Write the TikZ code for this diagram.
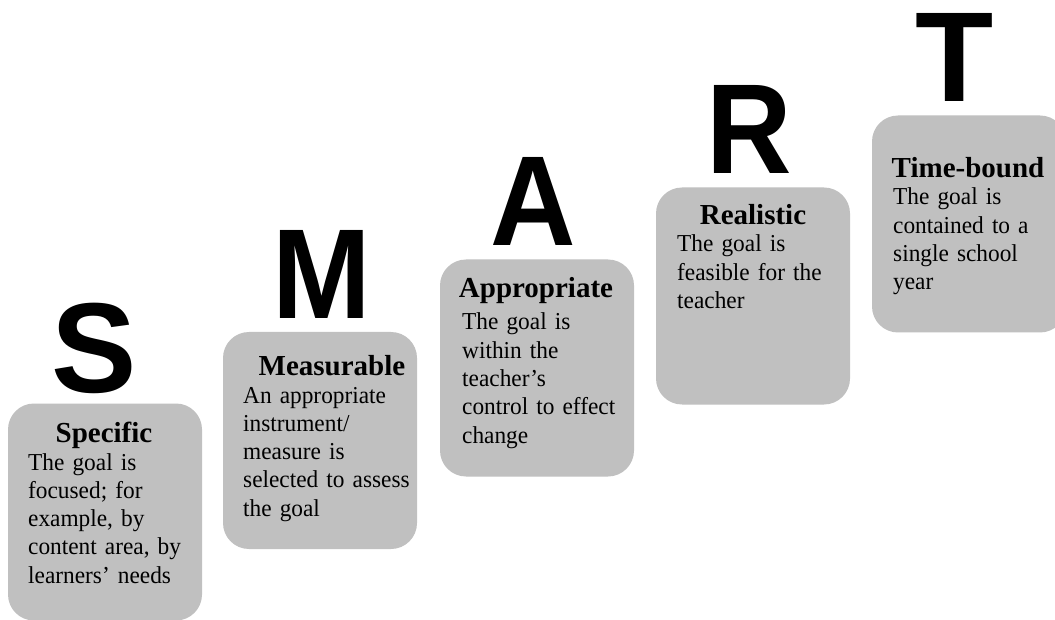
\documentclass[tikz,border=0pt]{standalone}
\usepackage{fontspec}
\setmainfont{Liberation Serif}
\newfontfamily\bodyserif[FakeStretch=0.96]{Liberation Serif}
\newfontfamily\lettersans{Liberation Sans}
\newfontfamily\lettersansnarrow[FakeStretch=0.925]{Liberation Sans}
\begin{document}
\begin{tikzpicture}[x=1pt, y=-1pt,
  card/.style={fill=cardgray, draw=none, rounded corners=26pt,
    minimum width=194pt, minimum height=217pt, inner sep=0pt},
  initial/.style={anchor=base, inner sep=0pt,
    font=\lettersans\bfseries\fontsize{128}{130}\selectfont},
  narrowinitial/.style={initial,
    font=\lettersansnarrow\bfseries\fontsize{128}{130}\selectfont},
  heading/.style={anchor=base, inner sep=0pt,
    font=\bfseries\fontsize{29}{32}\selectfont},
  body/.style={anchor=base west, inner sep=0pt, text width=190pt, align=left,
    font=\bodyserif\fontsize{24.3}{28.3}\selectfont}]
\definecolor{cardgray}{HTML}{C0C0C0}
\clip (0,0) rectangle (1055,620);
\fill[white] (0,0) rectangle (1055,620);

% staircase of cards
\node[card] (cardS) at (105,512) {};
\node[card] (cardM) at (320,440.5) {};
\node[card] (cardA) at (537,368) {};
\node[card] (cardR) at (753,296) {};
\node[card] (cardT) at (969,224) {};

% initials above the cards
\node[initial] (initS) at (94.5,392) {S};
\node[narrowinitial] (initM) at (321.5,319) {M};
\node[narrowinitial] (initA) at (533,246) {A};
\node[narrowinitial] (initR) at (749,174) {R};
\node[initial] (initT) at (955,102) {T};

% headings
\node[heading] (headS) at (104,442) {Specific};
\node[heading] (headM) at (332,375) {Measurable};
\node[heading] (headA) at (536,298) {Appropriate};
\node[heading] (headR) at (753,225) {Realistic};
\node[heading] (headT) at (968,178) {Time-bound};

% descriptions
\node[body] (textS) at (28,470) {The goal is\\focused; for\\example, by\\content area, by\\learners’ needs};
\node[body] (textM) at (243,403) {An appropriate\\instrument/\\measure is\\selected to assess\\the goal};
\node[body] (textA) at (462,330) {The goal is\\within the\\teacher’s\\control to effect\\change};
\node[body] (textR) at (677,252) {The goal is\\feasible for the\\teacher};
\node[body] (textT) at (893,205) {The goal is\\contained to a\\single school\\year};
\end{tikzpicture}
\end{document}
